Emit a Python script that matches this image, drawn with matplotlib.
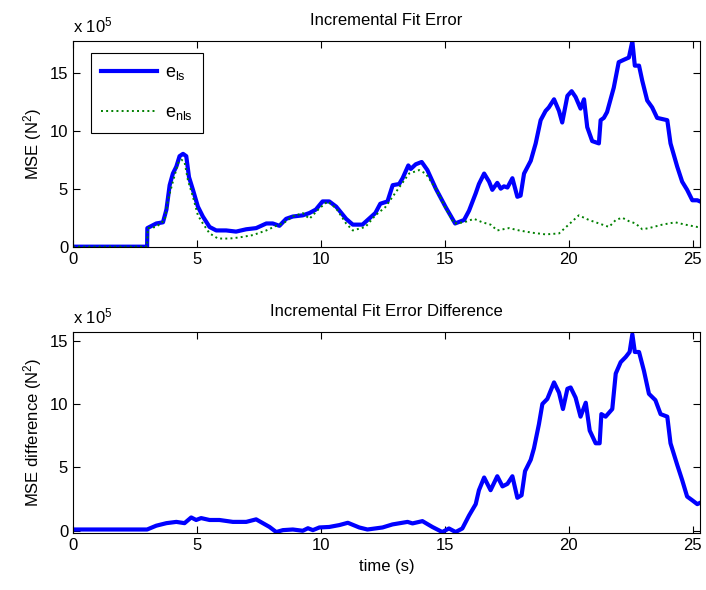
import matplotlib
matplotlib.use('Agg')
import matplotlib.pyplot as plt
import numpy as np

plt.rcParams['font.family'] = ['Liberation Sans', 'DejaVu Sans']
plt.rcParams['mathtext.fontset'] = 'custom'
plt.rcParams['mathtext.rm'] = 'Liberation Sans'
plt.rcParams['mathtext.it'] = 'Liberation Sans:italic'
plt.rcParams['font.size'] = 12

# values in units of 1e5 N^2
t_ls = [0, 2.99, 3.0, 3.36, 3.63, 3.77, 3.9, 4.03, 4.17, 4.3, 4.44, 4.57, 4.68, 4.84,
        5.04, 5.24, 5.51, 5.78, 6.18, 6.58, 6.99, 7.39, 7.8, 8.06, 8.33, 8.6, 8.87,
        9.27, 9.54, 9.8, 10.07, 10.34, 10.62, 11.02, 11.29, 11.68, 12.2, 12.4, 12.69,
        12.9, 13.16, 13.3, 13.53, 13.63, 13.83, 14.07, 14.3, 14.64, 15.04, 15.42,
        15.78, 15.98, 16.25, 16.38, 16.59, 16.79, 16.92, 17.12, 17.26, 17.39, 17.53,
        17.73, 17.93, 18.06, 18.2, 18.47, 18.67, 18.87, 19.07, 19.2, 19.41, 19.61,
        19.74, 19.95, 20.12, 20.28, 20.48, 20.62, 20.75, 20.95, 21.22, 21.29, 21.42,
        21.55, 21.82, 22.02, 22.22, 22.43, 22.57, 22.67, 22.84, 22.97, 23.17, 23.37,
        23.57, 23.98, 24.11, 24.38, 24.58, 24.78, 24.99, 25.19, 25.3]
e_ls = [0, 0, 1.6, 2.0, 2.1, 3.2, 5.3, 6.3, 6.9, 7.8, 8.0, 7.8, 6.0, 4.9,
        3.45, 2.6, 1.7, 1.4, 1.4, 1.3, 1.5, 1.6, 2.0, 2.0, 1.8, 2.4, 2.6,
        2.7, 2.9, 3.2, 3.9, 3.9, 3.45, 2.4, 1.9, 1.9, 2.9, 3.7, 3.9,
        5.3, 5.4, 5.9, 7.0, 6.7, 7.1, 7.3, 6.6, 5.0, 3.4, 2.0,
        2.3, 3.1, 4.6, 5.4, 6.3, 5.6, 4.9, 5.5, 5.0, 5.2, 5.1,
        5.9, 4.3, 4.4, 6.3, 7.4, 8.9, 10.9, 11.7, 12.0, 12.7, 11.7,
        10.7, 13.0, 13.4, 12.9, 11.9, 12.7, 10.3, 9.1, 8.9, 10.9, 11.1,
        11.6, 13.7, 15.9, 16.1, 16.3, 17.7, 15.6, 15.6, 14.3, 12.6, 12.0,
        11.1, 10.9, 8.9, 6.9, 5.6, 4.9, 4.0, 4.0, 3.9]

t_nls = [0, 2.99, 3.02, 3.36, 3.7, 3.83, 4.03, 4.24, 4.37, 4.5, 4.64, 4.84, 5.04,
         5.24, 5.51, 5.85, 6.32, 6.72, 7.26, 7.8, 8.2, 8.47, 8.87, 9.27, 9.54, 9.94,
         10.28, 10.62, 11.02, 11.29, 11.8, 12.2, 12.6, 13.16, 13.56, 13.97, 14.23,
         14.64, 15.04, 15.38, 15.78, 16.18, 16.52, 16.85, 17.12, 17.59, 18.0, 18.54,
         19.07, 19.61, 19.95, 20.41, 20.82, 21.36, 21.63, 21.9, 22.16, 22.43, 22.7,
         22.97, 23.24, 23.78, 24.3, 24.7, 25.19, 25.3]
e_nls = [0, 0, 1.6, 1.7, 2.3, 4.0, 5.6, 7.2, 7.5, 7.3, 5.7, 4.3, 2.7,
         2.0, 1.15, 0.7, 0.7, 0.8, 1.0, 1.4, 1.8, 2.0, 2.6, 2.9, 2.4, 3.3,
         3.9, 3.3, 2.0, 1.4, 1.7, 2.7, 3.4, 5.1, 6.3, 6.6, 6.3,
         5.0, 3.3, 2.0, 2.1, 2.4, 2.1, 1.9, 1.4, 1.6, 1.4, 1.2,
         1.06, 1.14, 1.8, 2.7, 2.3, 1.9, 1.7, 2.3, 2.5, 2.2, 2.0,
         1.5, 1.6, 1.9, 2.1, 1.9, 1.7, 1.7]

t_diff = [0, 2.99, 3.36, 3.77, 4.17, 4.5, 4.77, 4.97, 5.17, 5.51, 5.91, 6.45, 6.99,
          7.39, 7.66, 7.93, 8.2, 8.47, 8.87, 9.27, 9.48, 9.68, 9.94, 10.34, 10.75,
          11.09, 11.55, 11.88, 12.49, 12.89, 13.5, 13.7, 14.1, 14.5, 14.9, 15.17,
          15.44, 15.71, 15.98, 16.25, 16.38, 16.59, 16.85, 17.12, 17.33, 17.53, 17.73,
          17.93, 18.1, 18.24, 18.47, 18.6, 18.8, 18.94, 19.14, 19.41, 19.61, 19.77,
          19.95, 20.08, 20.28, 20.48, 20.69, 20.85, 21.09, 21.25, 21.32, 21.49, 21.76,
          21.9, 22.1, 22.3, 22.46, 22.57, 22.67, 22.84, 23.04, 23.24, 23.5, 23.71,
          23.98, 24.11, 24.38, 24.58, 24.78, 24.99, 25.19, 25.3]
e_diff = [0.1, 0.1, 0.4, 0.6, 0.7, 0.6, 1.05, 0.85, 1.0, 0.85, 0.85, 0.7, 0.7,
          0.9, 0.6, 0.3, -0.1, 0.05, 0.1, 0.0, 0.2, 0.05, 0.26, 0.3, 0.45,
          0.63, 0.26, 0.1, 0.26, 0.5, 0.7, 0.58, 0.76, 0.3, -0.1, 0.18,
          -0.1, 0.18, 1.2, 2.1, 3.2, 4.2, 3.2, 4.3, 3.5, 3.7, 4.3,
          2.6, 2.8, 4.7, 5.6, 6.5, 8.4, 10.0, 10.4, 11.7, 10.9, 9.6,
          11.2, 11.3, 10.5, 9.0, 10.1, 7.9, 6.9, 6.9, 9.2, 9.0, 9.6,
          12.4, 13.3, 13.7, 14.1, 15.5, 14.1, 14.1, 12.6, 10.8, 10.3, 9.2,
          9.0, 6.9, 5.2, 4.0, 2.7, 2.4, 2.1, 2.2]

xticks = [0, 5, 10, 15, 20, 25]

fig = plt.figure(figsize=(7.06, 5.90), dpi=100)
ax1 = fig.add_axes([0.1034, 0.5819, 0.8881, 0.3491])
ax2 = fig.add_axes([0.1034, 0.0961, 0.8881, 0.3417])

ax1.plot(t_ls, e_ls, color=(0, 0, 1), lw=3, label=r'e$_{\mathregular{ls}}$')
ax1.plot(t_nls, e_nls, color=(0, 0.5, 0), lw=1.4, ls=':', label=r'e$_{\mathregular{nls}}$')
ax1.set_xlim(0, 25.3)
ax1.set_ylim(0, 17.75)
ax1.set_yticks([0, 5, 10, 15])
ax1.set_ylabel(r'MSE (N$^2$)')
ax1.set_title('Incremental Fit Error', fontsize=12, pad=11)
leg = ax1.legend(loc='upper left', bbox_to_anchor=(0.028, 0.94), borderaxespad=0,
                 handlelength=3.1, handletextpad=0.4, labelspacing=1.25, borderpad=0.6,
                 fontsize=13, fancybox=False, framealpha=1)
leg.get_frame().set_edgecolor('black')
leg.get_frame().set_linewidth(0.8)

ax2.plot(t_diff, e_diff, color=(0, 0, 1), lw=3)
ax2.set_xlim(0, 25.3)
ax2.set_ylim(-0.2, 15.7)
ax2.set_yticks([0, 5, 10, 15])
ax2.set_ylabel(r'MSE difference (N$^2$)')
ax2.set_xlabel('time (s)')
ax2.set_title('Incremental Fit Error Difference', fontsize=12, pad=11)

for ax in (ax1, ax2):
    ax.set_xticks(xticks)
    ax.tick_params(direction='in', top=True, right=True, length=5, labelsize=12)
    for s in ax.spines.values():
        s.set_linewidth(0.8)
    ax.text(0, 1.025, r'x 10$^{5}$', transform=ax.transAxes, ha='left', va='bottom',
            fontsize=12)

fig.savefig('out.png', dpi=100)
